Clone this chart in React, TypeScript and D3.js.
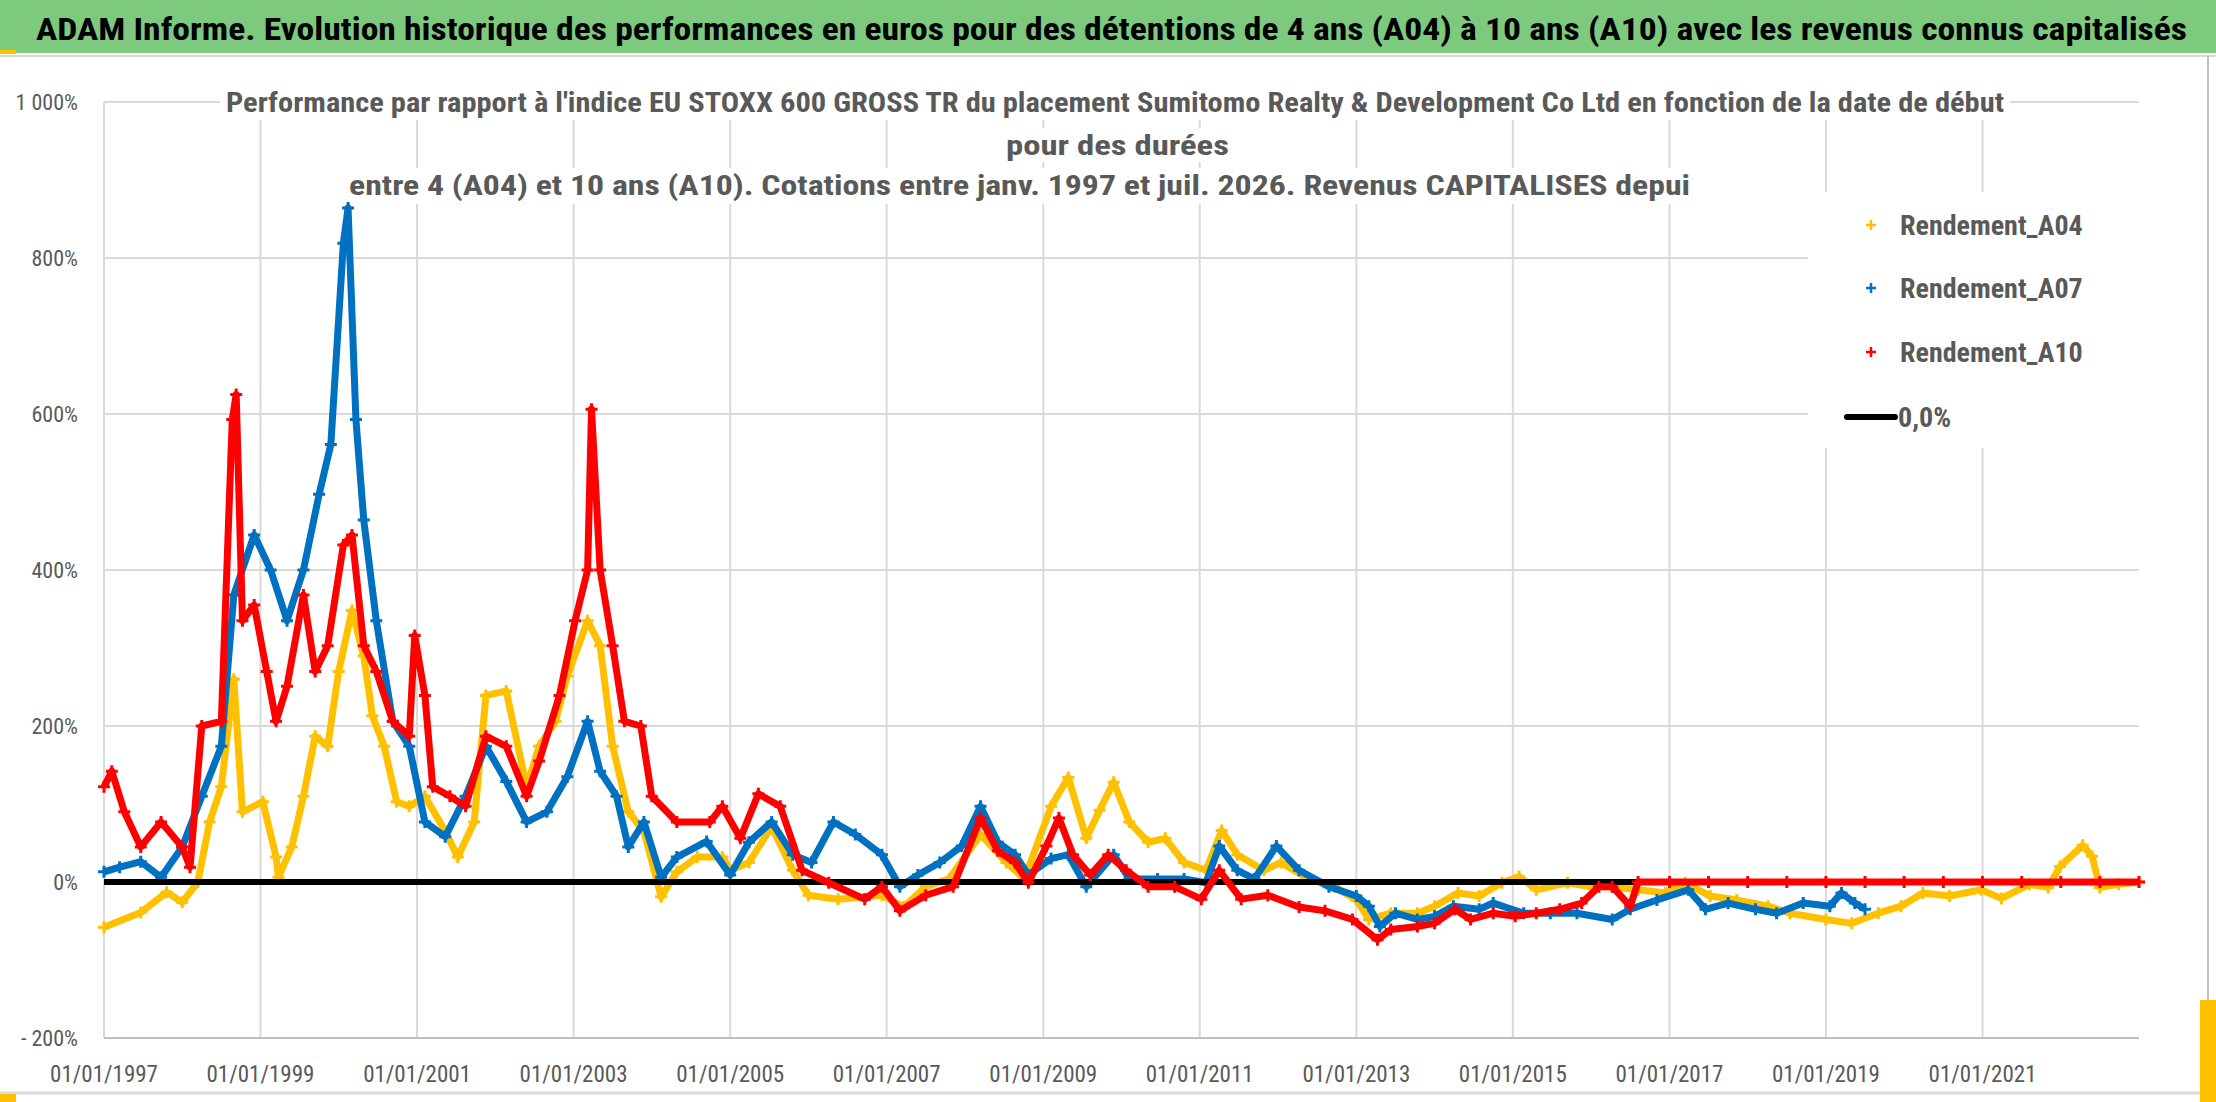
import * as d3 from "d3";

const W = 2216;
const H = 1102;
const PLOT = { left: 104, right: 2139, top: 102, bottom: 1038 };

const TITLE =
  "ADAM Informe. Evolution historique des performances en euros pour des détentions de 4 ans (A04) à 10 ans (A10) avec les revenus connus capitalisés";
const SUBTITLE = [
  "Performance par rapport à l'indice EU STOXX 600 GROSS TR  du placement Sumitomo Realty & Development Co Ltd en fonction de la date de début",
  "pour des durées",
  "entre 4 (A04) et 10 ans (A10). Cotations entre janv. 1997 et juil. 2026. Revenus CAPITALISES depui",
];

const yTicks = [-200, 0, 200, 400, 600, 800, 1000];
const xTickYears = [1997, 1999, 2001, 2003, 2005, 2007, 2009, 2011, 2013, 2015, 2017, 2019, 2021];

// decimal years, values in %
const a04Years = [1997, 1997.47, 1997.8, 1998, 1998.2, 1998.35, 1998.5, 1998.66, 1998.77, 1999.03, 1999.2, 1999.23, 1999.4, 1999.55, 1999.7, 1999.86, 2000, 2000.17, 2000.32, 2000.43, 2000.58, 2000.74, 2000.9, 2001.1, 2001.36, 2001.52, 2001.73, 2001.88, 2002.14, 2002.4, 2002.56, 2002.77, 2002.92, 2003.18, 2003.34, 2003.5, 2003.7, 2003.9, 2004.12, 2004.32, 2004.58, 2004.9, 2005, 2005.24, 2005.53, 2005.8, 2006, 2006.38, 2006.94, 2007.22, 2007.5, 2007.8, 2008.2, 2008.53, 2008.76, 2009.1, 2009.32, 2009.55, 2009.72, 2009.9, 2010.1, 2010.34, 2010.56, 2010.8, 2011.08, 2011.28, 2011.48, 2011.82, 2012.04, 2012.38, 2012.72, 2013, 2013.16, 2013.44, 2013.78, 2014, 2014.3, 2014.57, 2014.86, 2015.08, 2015.3, 2015.7, 2016, 2016.27, 2016.6, 2016.95, 2017.2, 2017.52, 2017.86, 2018.26, 2018.54, 2019, 2019.33, 2019.67, 2019.96, 2020.24, 2020.58, 2020.98, 2021.24, 2021.6, 2021.84, 2021.99, 2022.28, 2022.4, 2022.5, 2022.74, 2023];
const a04Values = [-58, -39, -13, -26, 0, 77, 122, 260, 90, 103, 32, 6, 45, 110, 187, 174, 270, 348, 290, 213, 174, 103, 97, 110, 65, 32, 77, 239, 245, 122, 174, 206, 264, 335, 303, 174, 90, 65, -19, 13, 32, 32, 15, 25, 71, 15, -17, -22, -17, -32, -6, 4, 61, 25, 4, 97, 134, 56, 92, 128, 77, 51, 56, 25, 15, 66, 35, 15, 25, 4, -6, -23, -48, -40, -40, -31, -14, -18, -1, 7, -10, -1, -6, -6, -10, -14, -1, -18, -23, -31, -40, -48, -53, -40, -31, -14, -18, -10, -21, -3, -7, 20, 47, 33, -7, -3, 0];

const a07Years = [1997, 1997.2, 1997.47, 1997.73, 1998, 1998.25, 1998.5, 1998.66, 1998.92, 1999.13, 1999.34, 1999.55, 1999.75, 1999.9, 2000.06, 2000.12, 2000.22, 2000.32, 2000.48, 2000.69, 2000.9, 2001.1, 2001.36, 2001.62, 2001.88, 2002.14, 2002.4, 2002.66, 2002.92, 2003.18, 2003.34, 2003.55, 2003.7, 2003.9, 2004.12, 2004.32, 2004.7, 2005, 2005.24, 2005.53, 2005.8, 2006.04, 2006.32, 2006.6, 2006.94, 2007.17, 2007.4, 2007.68, 2007.96, 2008.2, 2008.42, 2008.64, 2008.81, 2009.1, 2009.32, 2009.55, 2009.9, 2010.1, 2010.46, 2010.8, 2011.08, 2011.25, 2011.48, 2011.7, 2011.98, 2012.27, 2012.65, 2013, 2013.16, 2013.3, 2013.5, 2013.78, 2014, 2014.24, 2014.57, 2014.75, 2015.14, 2015.48, 2015.82, 2016.27, 2016.5, 2016.84, 2017.24, 2017.46, 2017.75, 2018.1, 2018.37, 2018.71, 2019.05, 2019.2, 2019.37, 2019.5];
const a07Values = [13, 19, 26, 6, 45, 110, 174, 368, 445, 400, 335, 400, 497, 561, 819, 864, 593, 464, 335, 206, 174, 77, 58, 110, 174, 129, 77, 90, 135, 206, 142, 110, 45, 77, 6, 32, 52, 9, 51, 77, 35, 25, 77, 61, 35, -6, 9, 25, 46, 97, 51, 35, 9, 30, 35, -6, 35, 4, 4, 4, -1, 46, 15, 4, 46, 15, -6, -18, -31, -57, -40, -48, -44, -31, -35, -27, -40, -40, -40, -48, -35, -23, -10, -35, -27, -35, -40, -27, -31, -14, -27, -35];

const a10Years = [1997, 1997.1, 1997.26, 1997.47, 1997.73, 1998, 1998.1, 1998.25, 1998.5, 1998.64, 1998.69, 1998.77, 1998.92, 1999.08, 1999.2, 1999.34, 1999.55, 1999.7, 1999.86, 2000.06, 2000.17, 2000.32, 2000.48, 2000.69, 2000.9, 2000.97, 2001.1, 2001.2, 2001.42, 2001.62, 2001.88, 2002.14, 2002.4, 2002.56, 2002.82, 2003.02, 2003.18, 2003.23, 2003.34, 2003.5, 2003.65, 2003.86, 2004, 2004.32, 2004.74, 2004.9, 2005.13, 2005.36, 2005.64, 2005.92, 2006.26, 2006.72, 2006.94, 2007.17, 2007.5, 2007.85, 2008.2, 2008.42, 2008.64, 2008.81, 2009.04, 2009.2, 2009.38, 2009.6, 2009.83, 2010.06, 2010.34, 2010.68, 2011.02, 2011.25, 2011.53, 2011.87, 2012.27, 2012.6, 2012.95, 2013.27, 2013.44, 2013.78, 2014, 2014.26, 2014.46, 2014.75, 2015.03, 2015.3, 2015.6, 2015.88, 2016.1, 2016.27, 2016.5, 2016.6, 2017, 2017.5, 2018, 2018.5, 2019, 2019.5, 2020, 2020.5, 2021, 2021.5, 2022, 2022.5, 2023];
const a10Values = [122, 142, 90, 45, 77, 45, 19, 200, 206, 593, 625, 335, 355, 270, 206, 251, 368, 270, 303, 432, 445, 303, 270, 206, 187, 316, 239, 122, 110, 97, 187, 174, 110, 155, 239, 335, 400, 606, 400, 303, 206, 200, 110, 77, 77, 97, 56, 113, 97, 15, -1, -22, -6, -37, -17, -6, 82, 40, 25, -1, 46, 82, 35, 9, 35, 15, -6, -6, -22, 15, -22, -17, -32, -37, -48, -74, -61, -57, -53, -35, -48, -40, -44, -40, -35, -27, -6, -6, -31, 0, 0, 0, 0, 0, 0, 0, 0, 0, 0, 0, 0, 0, 0];

const SERIES = [
  { name: "Rendement_A04", color: "#FFC000", years: a04Years, values: a04Values },
  { name: "Rendement_A07", color: "#0070C0", years: a07Years, values: a07Values },
  { name: "Rendement_A10", color: "#FF0000", years: a10Years, values: a10Values },
];

const toDate = (y: number) => {
  const yr = Math.floor(y);
  const start = new Date(yr, 0, 1).getTime();
  const end = new Date(yr + 1, 0, 1).getTime();
  return new Date(start + (y - yr) * (end - start));
};

const FONT = "'Liberation Sans Narrow', 'Roboto Condensed', 'Open Sans', sans-serif";
const GREY = "#595959";

export default function App() {
  const x = d3
    .scaleTime()
    .domain([new Date(1997, 0, 1), new Date(2023, 0, 1)])
    .range([PLOT.left, PLOT.right]);
  const y = d3.scaleLinear().domain([-200, 1000]).range([PLOT.bottom, PLOT.top]);

  const line = d3
    .line<[number, number]>()
    .x((d) => x(toDate(d[0])))
    .y((d) => y(d[1]))
    .curve(d3.curveLinear);

  const plus = (cx: number, cy: number, s: number) =>
    `M${cx - s},${cy}H${cx + s}M${cx},${cy - s}V${cy + s}`;

  const renderSeries = (s: (typeof SERIES)[number]) => {
    const pts = s.years.map((yr, i) => [yr, s.values[i]] as [number, number]);
    return (
      <g key={s.name}>
        <path d={line(pts) ?? ""} fill="none" stroke={s.color} strokeWidth={7} strokeLinejoin="round" />
        {pts.map((p, i) => (
          <path key={i} d={plus(x(toDate(p[0])), y(p[1]), 6)} stroke={s.color} strokeWidth={3} />
        ))}
      </g>
    );
  };

  const legendY = [225, 288, 352];

  return (
    <svg
      width={W}
      height={H}
      style={{ position: "fixed", left: 0, top: 0, background: "#fff" }}
      fontFamily={FONT}
    >
      <rect x={0} y={0} width={W} height={H} fill="#fff" />
      {/* title bar */}
      <rect x={0} y={0} width={W} height={53} fill="#7DC97E" />
      <rect x={0} y={50} width={16} height={4} fill="#FFC000" />
      <line x1={0} x2={W} y1={56} y2={56} stroke="#d9d9d9" strokeWidth={2} />
      <text x={36} y={40} fontSize={31} fontWeight="bold" fill="#000" textLength={2151} lengthAdjust="spacingAndGlyphs">
        {TITLE}
      </text>

      {/* grid */}
      {yTicks.map((t) => (
        <line key={t} x1={PLOT.left} x2={PLOT.right} y1={y(t)} y2={y(t)} stroke="#d9d9d9" strokeWidth={2} />
      ))}
      {xTickYears.map((yr) => (
        <line
          key={yr}
          x1={x(new Date(yr, 0, 1))}
          x2={x(new Date(yr, 0, 1))}
          y1={PLOT.top}
          y2={PLOT.bottom}
          stroke="#d9d9d9"
          strokeWidth={2}
        />
      ))}
      <line x1={PLOT.left} x2={PLOT.right} y1={PLOT.bottom} y2={PLOT.bottom} stroke="#bfbfbf" strokeWidth={2} />

      {/* chart subtitle with white backing */}
      <rect x={220} y={86} width={1790} height={34} fill="#fff" />
      <rect x={995} y={128} width={240} height={34} fill="#fff" />
      <rect x={340} y={168} width={1360} height={36} fill="#fff" />
      <text x={226} y={112} fontSize={27} fill={GREY} fontWeight="bold" textLength={1778} lengthAdjust="spacingAndGlyphs">
        {SUBTITLE[0]}
      </text>
      <text x={1006} y={155} fontSize={27} fill={GREY} fontWeight="bold" textLength={223} lengthAdjust="spacingAndGlyphs">
        {SUBTITLE[1]}
      </text>
      <text x={349} y={195} fontSize={27} fill={GREY} fontWeight="bold" textLength={1341} lengthAdjust="spacingAndGlyphs">
        {SUBTITLE[2]}
      </text>

      {/* series */}
      {renderSeries(SERIES[0])}
      {renderSeries(SERIES[1])}
      <line x1={PLOT.left} x2={PLOT.right} y1={y(0)} y2={y(0)} stroke="#000" strokeWidth={6} />
      {renderSeries(SERIES[2])}

      {/* axis labels */}
      {yTicks.map((t) => (
        <text key={t} x={78} y={y(t) + 8} fontSize={22} fill={GREY} textAnchor="end">
          {t < 0 ? `- ${Math.abs(t)}%` : `${d3.format(",")(t).replace(",", " ")}%`}
        </text>
      ))}
      {xTickYears.map((yr) => (
        <text key={yr} x={x(new Date(yr, 0, 1))} y={1082} fontSize={23} fill={GREY} textAnchor="middle">
          {d3.timeFormat("%d/%m/%Y")(new Date(yr, 0, 1))}
        </text>
      ))}

      {/* legend */}
      <rect x={1808} y={192} width={331} height={256} fill="#fff" />
      {SERIES.map((s, i) => (
        <g key={s.name}>
          <path d={plus(1871, legendY[i], 5)} stroke={s.color} strokeWidth={2.5} />
          <text x={1900} y={legendY[i] + 10} fontSize={28} fill={GREY} fontWeight="bold">
            {s.name}
          </text>
        </g>
      ))}
      <line x1={1847} x2={1895} y1={417} y2={417} stroke="#000" strokeWidth={6} strokeLinecap="round" />
      <text x={1898} y={427} fontSize={28} fill={GREY} fontWeight="bold">
        0,0%
      </text>

      {/* frame */}
      <line x1={2208} x2={2208} y1={56} y2={H} stroke="#bfbfbf" strokeWidth={2} />
      <line x1={0} x2={W} y1={1093} y2={1093} stroke="#d9d9d9" strokeWidth={3} />
      <rect x={2200} y={1000} width={16} height={102} fill="#FFC000" />
      <rect x={0} y={1094} width={16} height={8} fill="#FFC000" />
    </svg>
  );
}
